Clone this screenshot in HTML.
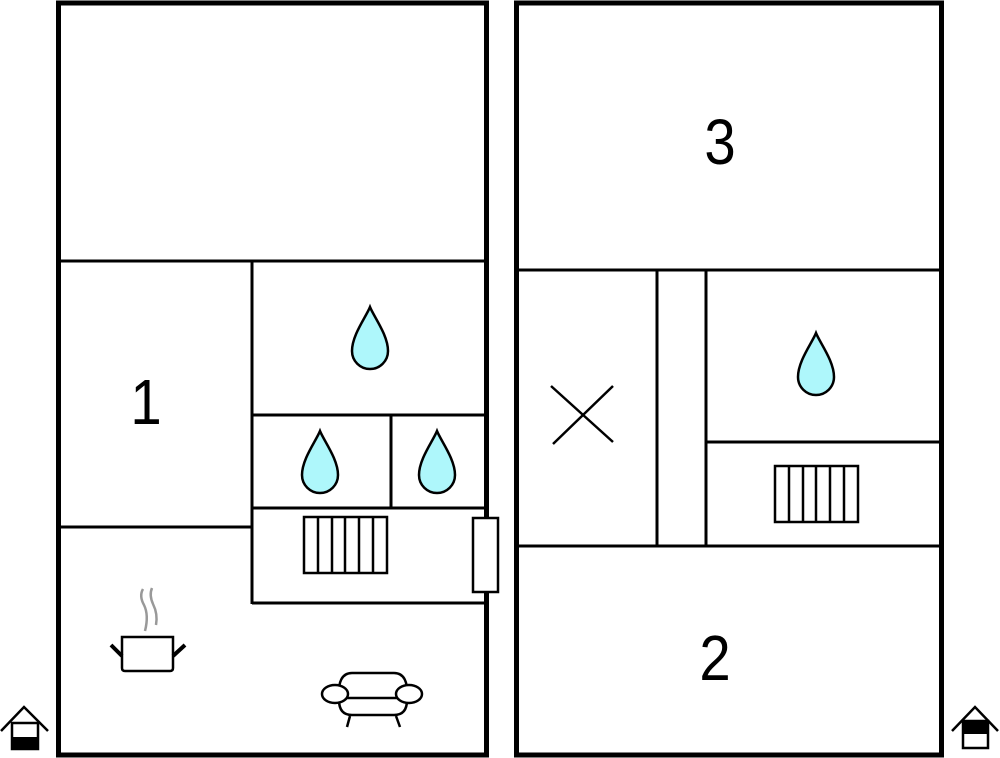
<!DOCTYPE html>
<html><head><meta charset="utf-8"><style>
html,body{margin:0;padding:0;background:#fff;}
svg{display:block;}
text{font-family:"Liberation Sans",sans-serif;font-size:64px;fill:#000;}
</style></head><body>
<svg width="1000" height="758" viewBox="0 0 1000 758" xmlns="http://www.w3.org/2000/svg">
<defs>
<path id="drop" d="M0,0 C4,10 18,28 18,44 A18,18 0 0 1 -18,44 C-18,28 -4,10 0,0 Z" fill="#aef7fb" stroke="#000" stroke-width="2.5"/>
<g id="rad" fill="none" stroke="#000" stroke-width="2.5">
<rect x="0" y="0" width="83" height="56"/>
<line x1="14" y1="0" x2="14" y2="56"/><line x1="28" y1="0" x2="28" y2="56"/>
<line x1="41" y1="0" x2="41" y2="56"/><line x1="55" y1="0" x2="55" y2="56"/>
<line x1="69" y1="0" x2="69" y2="56"/>
</g>
</defs>
<g fill="none" stroke="#000">
<rect x="58.5" y="3" width="428" height="752" stroke-width="5"/>
<g stroke-width="3">
<line x1="60" y1="261" x2="485" y2="261"/>
<line x1="252" y1="261" x2="252" y2="604"/>
<line x1="60" y1="527" x2="252" y2="527"/>
<line x1="252" y1="415" x2="485" y2="415"/>
<line x1="252" y1="508" x2="485" y2="508"/>
<line x1="252" y1="603" x2="485" y2="603"/>
<line x1="391" y1="415" x2="391" y2="508"/>
</g>
<rect x="473" y="518" width="25" height="74" fill="#fff" stroke-width="2.5"/>
<rect x="516.5" y="3" width="425" height="752" stroke-width="5"/>
<g stroke-width="3">
<line x1="518" y1="270" x2="940" y2="270"/>
<line x1="518" y1="546" x2="940" y2="546"/>
<line x1="657" y1="270" x2="657" y2="546"/>
<line x1="706" y1="270" x2="706" y2="546"/>
<line x1="706" y1="442" x2="940" y2="442"/>
<line x1="551" y1="386" x2="613" y2="442" stroke-width="2.5"/>
<line x1="613" y1="386" x2="553" y2="444" stroke-width="2.5"/>
</g>
</g>
<use href="#drop" x="370" y="307"/>
<use href="#drop" x="320" y="431"/>
<use href="#drop" x="437" y="431"/>
<use href="#drop" x="816" y="333"/>
<use href="#rad" x="304" y="517"/>
<use href="#rad" x="775" y="466"/>
<text x="146" y="424" text-anchor="middle" transform="translate(146 0) scale(0.88 1) translate(-146 0)">1</text>
<text x="720" y="164" text-anchor="middle" transform="translate(720 0) scale(0.88 1) translate(-720 0)">3</text>
<text x="715" y="680" text-anchor="middle" transform="translate(715 0) scale(0.88 1) translate(-715 0)">2</text>
<g fill="none" stroke="#000">
<path d="M122,637 H173 V668 Q173,671 170,671 H125 Q122,671 122,668 Z" stroke-width="2.5"/>
<line x1="111" y1="645" x2="122" y2="656" stroke-width="4"/>
<line x1="185" y1="645" x2="173" y2="656" stroke-width="4"/>
<path d="M143,589 Q139,596 144,605 Q149,615 145,631" stroke="#999" stroke-width="2.5"/>
<path d="M152,588 Q149,595 153,604 Q158,614 156,625" stroke="#999" stroke-width="2.5"/>
</g>
<g fill="#fff" stroke="#000" stroke-width="2.5">
<path d="M339,699 Q337,673 352,673 H394 Q409,673 407,699"/>
<path d="M339,690 V700 Q339,715 352,715 H394 Q407,715 407,700 V690"/>
<line x1="343" y1="698" x2="403" y2="698"/>
<ellipse cx="335" cy="694" rx="13" ry="9"/>
<ellipse cx="409" cy="694" rx="13" ry="9"/>
<line x1="350" y1="716" x2="347" y2="727"/>
<line x1="396" y1="716" x2="400" y2="727"/>
</g>
<g fill="none" stroke="#000" stroke-width="2.5">
<polyline points="1,731 24,707 48,731"/>
<rect x="12" y="723" width="26" height="26"/>
<polyline points="952,731 975,707 998,731"/>
<rect x="963" y="721" width="25" height="27"/>
</g>
<rect x="12" y="737" width="26" height="12" fill="#000"/>
<rect x="963" y="721" width="25" height="13" fill="#000"/>
</svg>
</body></html>
